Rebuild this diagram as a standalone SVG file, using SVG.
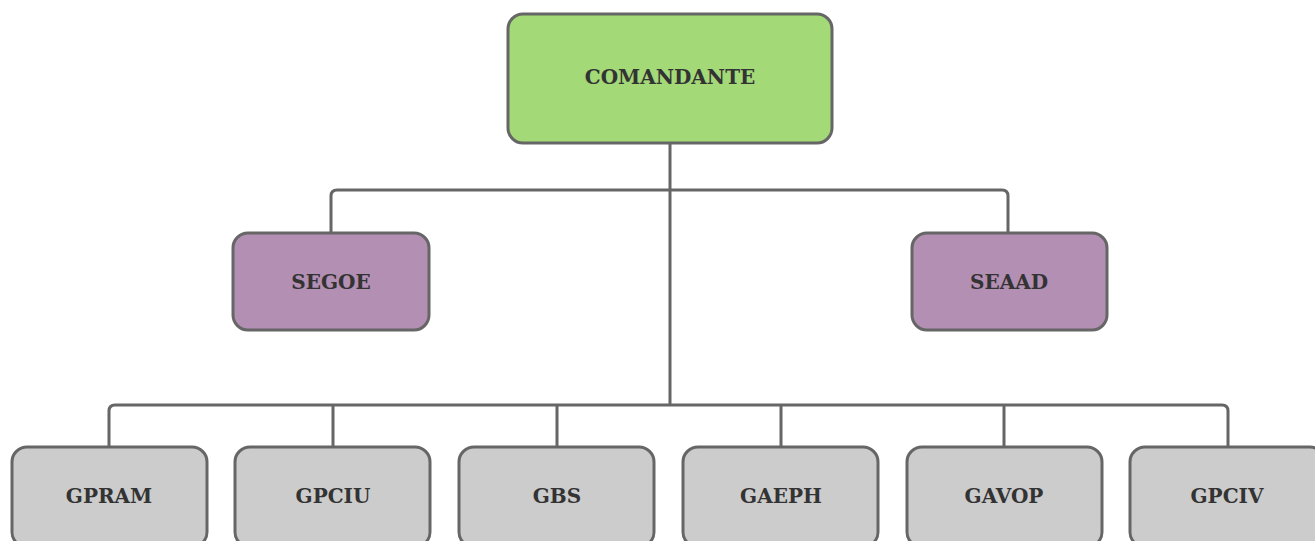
<svg xmlns="http://www.w3.org/2000/svg" width="1315" height="541" viewBox="0 0 1315 541">
<style>
.box{stroke:#666666;stroke-width:3}
.g{fill:#a3d977}
.p{fill:#b38fb3}
.s{fill:#cccccc}
.t{font-family:"DejaVu Serif","Liberation Serif",serif;font-weight:bold;font-size:20px;fill:#333333;text-anchor:middle;dominant-baseline:central}
.c{fill:none;stroke:#666666;stroke-width:3;stroke-linejoin:round}
</style>
<rect width="1315" height="541" fill="#ffffff"/>
<g id="connectors">
<path class="c" d="M670 144 V405"/>
<path class="c" d="M331 233 V196 Q331 190 337 190 H1002 Q1008 190 1008 196 V233"/>
<path class="c" d="M109 447 V411 Q109 405 115 405 H1222 Q1228 405 1228 411 V447"/>
<path class="c" d="M333 405 V447 M557 405 V447 M781 405 V447 M1004 405 V447"/>
</g>
<g id="comandante"><rect class="box g" x="508" y="14" width="324" height="129" rx="15"/><text class="t" x="670" y="77">COMANDANTE</text></g>
<g id="segoe"><rect class="box p" x="233" y="233" width="196" height="97" rx="15"/><text class="t" x="331" y="282">SEGOE</text></g>
<g id="seaad"><rect class="box p" x="912" y="233" width="195" height="97" rx="15"/><text class="t" x="1009" y="282">SEAAD</text></g>
<g id="gpram"><rect class="box s" x="12" y="447" width="195" height="100" rx="15"/><text class="t" x="109" y="496">GPRAM</text></g>
<g id="gpciu"><rect class="box s" x="235" y="447" width="195" height="100" rx="15"/><text class="t" x="333" y="496">GPCIU</text></g>
<g id="gbs"><rect class="box s" x="459" y="447" width="195" height="100" rx="15"/><text class="t" x="557" y="496">GBS</text></g>
<g id="gaeph"><rect class="box s" x="683" y="447" width="195" height="100" rx="15"/><text class="t" x="781" y="496">GAEPH</text></g>
<g id="gavop"><rect class="box s" x="907" y="447" width="195" height="100" rx="15"/><text class="t" x="1004" y="496">GAVOP</text></g>
<g id="gpciv"><rect class="box s" x="1130" y="447" width="195" height="100" rx="15"/><text class="t" x="1227" y="496">GPCIV</text></g>
</svg>
